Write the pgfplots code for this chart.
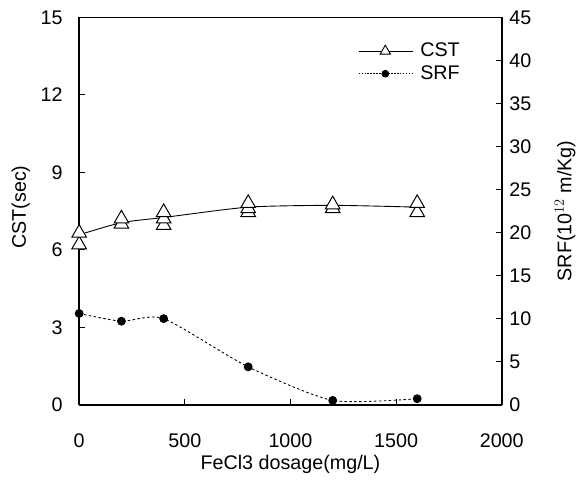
\documentclass[border=0pt]{standalone}
\usepackage{pgfplots}
\pgfplotsset{compat=1.18}
\usepackage{fontspec}
\setmainfont{Liberation Sans}
\begin{document}
\fontsize{20}{24}\selectfont
\begin{tikzpicture}
\pgfplotsset{
  common/.style={
    width=427bp, height=391.5bp, scale only axis,
    xmin=0, xmax=2000,
    /pgf/number format/assume math mode=true,
    /pgf/number format/1000 sep={},
    tick align=inside,
    major tick length=6bp,
    tick style={black, line width=0.9pt},
    axis line style={line width=1.6pt},
  }
}
\begin{axis}[common,
  axis x line*=bottom, axis y line*=left,
  ymin=0, ymax=15, ytick={0,3,...,15},
  xtick={0,500,...,2000},
  xticklabel style={yshift=-22bp},
  yticklabel style={xshift=-10bp},
  xlabel={FeCl3 dosage(mg/L)},
  ylabel={CST(sec)},
  xlabel style={at={(axis description cs:0.5,-0.153)}, anchor=center},
  ylabel style={at={(axis description cs:-0.138,0.51)}, anchor=center},
  clip=false,
]
\coordinate (bl) at (rel axis cs:0,0);
\draw[line width=0.8pt] (rel axis cs:0,1) -- (rel axis cs:1,1);
\addplot[black, line width=0.9pt, smooth, tension=0.4] coordinates {
(0,6.58) (200,7.05) (400,7.25) (800,7.65) (1200,7.72) (1600,7.65)};
\addplot[only marks, mark=triangle*, mark size=8.5bp, mark options={fill=white, draw=black, line width=1pt}] coordinates {
(0,6.2) (0,6.65)
(200,7.0) (200,7.2)
(400,6.95) (400,7.2) (400,7.45)
(800,7.45) (800,7.6) (800,7.8)
(1200,7.6) (1200,7.75)
(1600,7.45) (1600,7.8)};
\end{axis}
\begin{axis}[common,
  axis x line=none, axis y line*=right,
  ymin=0, ymax=45, ytick={0,5,...,45},
  yticklabel style={xshift=1bp},
  ylabel={SRF(10$^{12}$ m/Kg)},
  ylabel style={at={(axis description cs:1.15,0.5)}, anchor=center},
  legend style={draw=none, fill=none, at={(axis description cs:0.66,0.94)}, anchor=north west, row sep=2bp,
    inner sep=0pt, font=\fontsize{20}{24}\selectfont},
  legend cell align=left,
  legend image code/.code={
    \draw[#1] (0bp,0bp) -- (55bp,0bp);
    \draw[#1, only marks] plot coordinates {(27bp,0bp)};
    \path (60bp,0bp);
  },
]
\addlegendimage{black, line width=0.7pt, mark=triangle*, mark size=6bp, mark options={fill=white, solid, line width=0.9pt}}
\addlegendentry{CST}
\addlegendimage{black, line width=0.7pt, dash pattern=on 1.5pt off 1.5pt, mark=*, mark size=3.5bp, mark options={solid}}
\addlegendentry{SRF}
\addplot[black, line width=0.9pt, dash pattern=on 2.5pt off 2.5pt, smooth, tension=0.4, mark=*, mark size=4bp, mark options={solid}, forget plot] coordinates {
(0,10.6) (200,9.7) (400,10.0) (800,4.4) (1200,0.5) (1600,0.7)};
\end{axis}
\path (bl) ++(-80bp,-79bp) rectangle ++(582bp,488bp);
\end{tikzpicture}
\end{document}
